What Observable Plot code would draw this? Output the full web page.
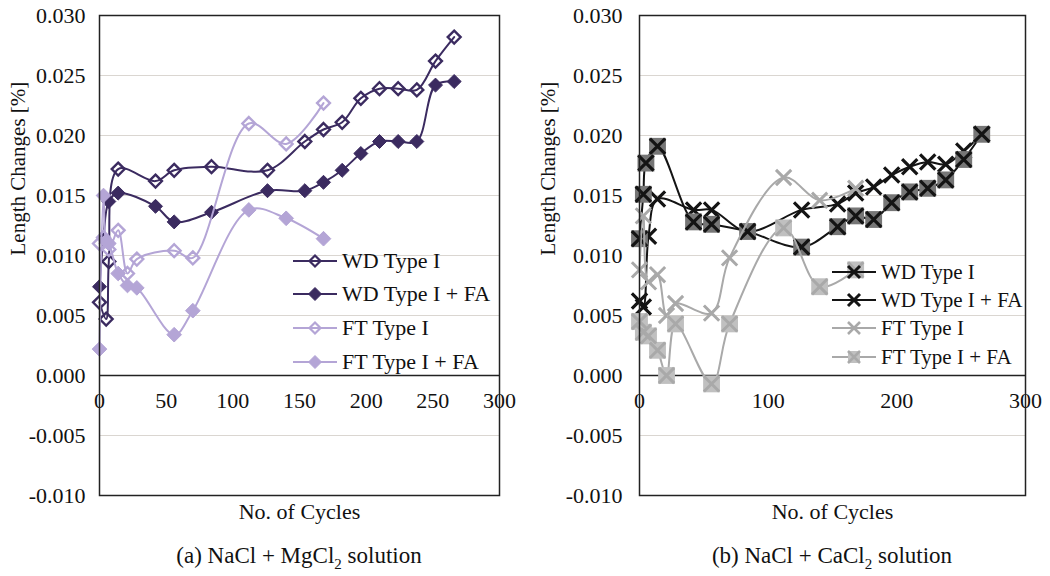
<!DOCTYPE html>
<html>
<head>
<meta charset="utf-8">
<script src="https://cdn.jsdelivr.net/npm/d3@7"></script>
<script src="https://cdn.jsdelivr.net/npm/@observablehq/plot@0.6"></script>
<style>
  html, body { margin: 0; padding: 0; background: #fff; }
  #wrap { position: relative; width: 1050px; height: 576px; font-family: "Liberation Serif", "Times New Roman", serif; color: #111; }
  #charts { display: flex; }
  #charts svg { font-family: "Liberation Serif", "Times New Roman", serif !important; font-size: 22px; }
  .row { position: absolute; display: flex; align-items: center; white-space: nowrap; }
  .caption { position: absolute; top: 543px; font-size: 23px; width: 440px; text-align: center; }
</style>
</head>
<body>
<div id="wrap">
  <div id="charts"></div>
  <div class="caption" style="left:79px">(a) NaCl + MgCl<sub style="font-size:15px">2</sub> solution</div>
  <div class="caption" style="left:612px">(b) NaCl + CaCl<sub style="font-size:15px">2</sub> solution</div>
</div>
<script>
// ---------- data ----------
const seriesNames = ["WD Type I", "WD Type I + FA", "FT Type I", "FT Type I + FA"];
const yTicks = [-0.010, -0.005, 0.000, 0.005, 0.010, 0.015, 0.020, 0.025, 0.030];
const xTicksA = [0, 50, 100, 150, 200, 250, 300];
const xTicksB = [0, 100, 200, 300];

// (a) NaCl + MgCl2
const mgWdCycles   = [0, 5, 7, 14, 42, 56, 84, 126, 154, 168, 182, 196, 210, 224, 238, 252, 266];
const mgWdValues   = [0.0061, 0.0047, 0.0095, 0.0172, 0.0162, 0.0171, 0.0174, 0.0171, 0.0195, 0.0205, 0.0211, 0.0231, 0.0239, 0.0239, 0.0238, 0.0262, 0.0282];
const mgWdFaCycles = [0, 3, 7, 14, 42, 56, 84, 126, 154, 168, 182, 196, 210, 224, 238, 252, 266];
const mgWdFaValues = [0.0074, 0.0115, 0.0145, 0.0152, 0.0141, 0.0128, 0.0136, 0.0154, 0.0154, 0.0161, 0.0171, 0.0185, 0.0195, 0.0195, 0.0195, 0.0242, 0.0245];
const mgFtCycles   = [0, 3, 7, 14, 21, 28, 56, 70, 112, 140, 168];
const mgFtValues   = [0.0110, 0.0115, 0.0105, 0.0121, 0.0085, 0.0097, 0.0104, 0.0098, 0.0210, 0.0193, 0.0227];
const mgFtFaCycles = [0, 3, 5, 7, 14, 21, 28, 56, 70, 112, 140, 168];
const mgFtFaValues = [0.0022, 0.0150, 0.0112, 0.0110, 0.0085, 0.0075, 0.0073, 0.0034, 0.0054, 0.0138, 0.0131, 0.0114];

// (b) NaCl + CaCl2
const caWdCycles   = [0, 3, 7, 14, 42, 56, 84, 126, 154, 168, 182, 196, 210, 224, 238, 252, 266];
const caWdValues   = [0.0062, 0.0057, 0.0116, 0.0147, 0.0138, 0.0138, 0.0120, 0.0138, 0.0143, 0.0152, 0.0157, 0.0167, 0.0174, 0.0178, 0.0176, 0.0187, 0.0201];
const caWdFaCycles = [0, 3, 5, 14, 42, 56, 84, 126, 154, 168, 182, 196, 210, 224, 238, 252, 266];
const caWdFaValues = [0.0114, 0.0151, 0.0177, 0.0191, 0.0128, 0.0126, 0.0120, 0.0107, 0.0124, 0.0133, 0.0130, 0.0144, 0.0153, 0.0156, 0.0163, 0.0180, 0.0201];
const caFtCycles   = [0, 3, 7, 14, 21, 28, 56, 70, 112, 140, 168];
const caFtValues   = [0.0088, 0.0133, 0.0078, 0.0084, 0.0050, 0.0060, 0.0052, 0.0098, 0.0165, 0.0146, 0.0156];
const caFtFaCycles = [0, 3, 7, 14, 21, 28, 56, 70, 112, 140, 168];
const caFtFaValues = [0.0045, 0.0036, 0.0033, 0.0021, 0.0000, 0.0043, -0.0007, 0.0043, 0.0123, 0.0074, 0.0088];

const pairs = (xs, ys) => xs.map((x, i) => ({x, y: ys[i]}));

// ---------- styles ----------
const purpleDark = "#3b2b60", purpleLight = "#b4a5d6";
const black = "#141414", midGray = "#767676", ftGray = "#a9a9a9", ftFaFill = "#c0c0c0";
const FONT = "Liberation Serif";

function basePlot({marginLeft, marginRight, xTicks, labelDx, tickPad, marks}) {
  return Plot.plot({
    width: 525, height: 540,
    marginLeft, marginRight, marginTop: 15, marginBottom: 45,
    style: {fontFamily: FONT, fontSize: "22px", color: "#111", background: "transparent", overflow: "visible"},
    x: {domain: [0, 300]},
    y: {domain: [-0.010, 0.030]},
    marks: [
      Plot.gridY(yTicks, {stroke: "#dad6d1", strokeOpacity: 1, strokeWidth: 1.2}),
      Plot.axisY(yTicks, {tickSize: 0, tickPadding: tickPad, tickFormat: d => d.toFixed(3), label: null, fontSize: 22}),
      Plot.axisX({ticks: [], label: null}),
      Plot.text(["Length Changes [%]"], {frameAnchor: "left", dx: labelDx, rotate: -90, text: d => d, fontSize: 21}),
      Plot.text(["No. of Cycles"], {frameAnchor: "bottom", dy: 23, text: d => d, fontSize: 22}),
      Plot.ruleY([0], {stroke: "#222", strokeWidth: 1.5}),
      Plot.text(xTicks, {x: d => d, y: 0, dy: 25, text: d => String(d), fontSize: 22}),
      ...marks,
      Plot.frame({stroke: "#222", strokeWidth: 1.5})
    ]
  });
}

const curve = "catmull-rom";

const plotA = basePlot({
  marginLeft: 99, marginRight: 26, xTicks: xTicksA, labelDx: -81, tickPad: 14,
  marks: [
    Plot.line(pairs(mgWdCycles, mgWdValues), {x: "x", y: "y", stroke: purpleDark, strokeWidth: 2, curve}),
    Plot.dot(pairs(mgWdCycles, mgWdValues), {x: "x", y: "y", symbol: "diamond2", r: 5.8, fill: "none", stroke: purpleDark, strokeWidth: 2.4}),
    Plot.line(pairs(mgWdFaCycles, mgWdFaValues), {x: "x", y: "y", stroke: purpleDark, strokeWidth: 2, curve}),
    Plot.dot(pairs(mgWdFaCycles, mgWdFaValues), {x: "x", y: "y", symbol: "diamond2", r: 6.3, fill: purpleDark, stroke: purpleDark, strokeWidth: 1}),
    Plot.line(pairs(mgFtCycles, mgFtValues), {x: "x", y: "y", stroke: purpleLight, strokeWidth: 2, curve}),
    Plot.dot(pairs(mgFtCycles, mgFtValues), {x: "x", y: "y", symbol: "diamond2", r: 5.8, fill: "none", stroke: purpleLight, strokeWidth: 2.4}),
    Plot.line(pairs(mgFtFaCycles, mgFtFaValues), {x: "x", y: "y", stroke: purpleLight, strokeWidth: 2, curve}),
    Plot.dot(pairs(mgFtFaCycles, mgFtFaValues), {x: "x", y: "y", symbol: "diamond2", r: 6.6, fill: purpleLight, stroke: purpleLight, strokeWidth: 1})
  ]
});

const plotB = basePlot({
  marginLeft: 114, marginRight: 25, xTicks: xTicksB, labelDx: -91, tickPad: 17,
  marks: [
    Plot.line(pairs(caWdCycles, caWdValues), {x: "x", y: "y", stroke: black, strokeWidth: 2, curve}),
    Plot.dot(pairs(caWdCycles, caWdValues), {x: "x", y: "y", symbol: "times", r: 7, stroke: black, strokeWidth: 3.2}),
    Plot.line(pairs(caWdFaCycles, caWdFaValues), {x: "x", y: "y", stroke: black, strokeWidth: 2, curve}),
    Plot.dot(pairs(caWdFaCycles, caWdFaValues), {x: "x", y: "y", symbol: "square", r: 9.5, fill: midGray, stroke: "none"}),
    Plot.dot(pairs(caWdFaCycles, caWdFaValues), {x: "x", y: "y", symbol: "times", r: 7, stroke: black, strokeWidth: 3.2}),
    Plot.line(pairs(caFtCycles, caFtValues), {x: "x", y: "y", stroke: ftGray, strokeWidth: 2, curve}),
    Plot.dot(pairs(caFtCycles, caFtValues), {x: "x", y: "y", symbol: "times", r: 7, stroke: ftGray, strokeWidth: 3}),
    Plot.line(pairs(caFtFaCycles, caFtFaValues), {x: "x", y: "y", stroke: ftGray, strokeWidth: 2, curve}),
    Plot.dot(pairs(caFtFaCycles, caFtFaValues), {x: "x", y: "y", symbol: "square", r: 9.5, fill: ftFaFill, stroke: "none"}),
    Plot.dot(pairs(caFtFaCycles, caFtFaValues), {x: "x", y: "y", symbol: "times", r: 7, stroke: ftGray, strokeWidth: 3})
  ]
});

document.getElementById("charts").append(plotA, plotB);

// ---------- legends ----------
const wrap = document.getElementById("wrap");
function legend({left, tops, fontSize, samples}) {
  seriesNames.forEach((name, i) => {
    const row = document.createElement("div");
    row.className = "row";
    row.style.left = left + "px";
    row.style.top = (tops[i] - 12) + "px";
    row.style.height = "24px";
    row.style.fontSize = fontSize + "px";
    row.innerHTML = `<svg width="46" height="24" style="margin-right:4px">${samples[i]}</svg><span>${name}</span>`;
    wrap.append(row);
  });
}
const dia = (fill, stroke, sw, r) => `<polygon points="23,${12 - r} ${23 + r},12 23,${12 + r} ${23 - r},12" fill="${fill}" stroke="${stroke}" stroke-width="${sw}"/>`;
const ln = c => `<line x1="1" y1="12" x2="45" y2="12" stroke="${c}" stroke-width="2.2"/>`;
const sq = (fill, s) => `<rect x="${23 - s}" y="${12 - s}" width="${2 * s}" height="${2 * s}" fill="${fill}"/>`;
const tx = (c, s, w) => `<path d="M${23 - s},${12 - s}L${23 + s},${12 + s}M${23 - s},${12 + s}L${23 + s},${12 - s}" stroke="${c}" stroke-width="${w}"/>`;

legend({
  left: 292, tops: [261, 294, 328, 362], fontSize: 22,
  samples: [
    ln(purpleDark) + dia("none", purpleDark, 2.2, 5.5),
    ln(purpleDark) + dia(purpleDark, purpleDark, 1, 6.5),
    ln(purpleLight) + dia("none", purpleLight, 2.2, 5.5),
    ln(purpleLight) + dia(purpleLight, purpleLight, 1, 6.5)
  ]
});
legend({
  left: 831, tops: [272, 300, 328, 357], fontSize: 21,
  samples: [
    ln(black) + tx(black, 6, 3),
    ln(black) + tx(black, 6, 3),
    ln(ftGray) + tx(ftGray, 6, 2.6),
    ln(ftGray) + sq(ftFaFill, 6) + tx(ftGray, 6, 2.6)
  ]
});
</script>
</body>
</html>
